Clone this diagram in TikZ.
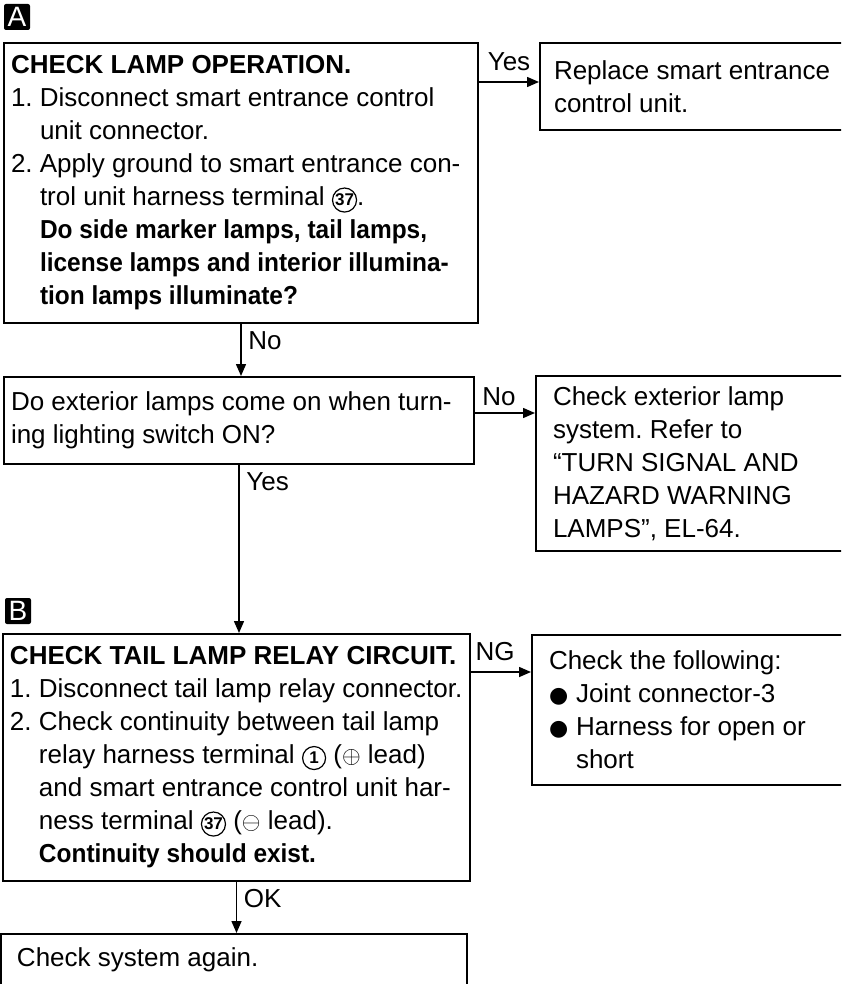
\documentclass[tikz,border=0pt]{standalone}
\usepackage{fontspec}
\setmainfont{Liberation Sans}
\newfontfamily\symfont{DejaVu Sans}
\usetikzlibrary{arrows.meta,calc}

\tikzset{
  every node/.style={font=\fontsize{13}{16.5}\selectfont\frenchspacing},
  stepbox/.style={draw, rectangle, line width=1pt, anchor=north west, align=flush left, inner ysep=0pt},
  flow/.style={-{Triangle[length=6pt,width=5pt]}, line width=0.75pt},
  tag/.style={fill=black, text=white, minimum size=13pt, inner sep=0pt, rounded corners=1pt, font=\fontsize{14}{14}\selectfont}
}
\newcommand{\circnum}[1]{\tikz[baseline=(cn.base)]\node[draw, circle, line width=0.6pt, inner sep=0.3pt, minimum size=11.5pt, font=\fontsize{8.5}{8.5}\selectfont\bfseries] (cn) {#1};}
\newcommand{\indentitem}{\hspace*{14.5pt}}
\newcommand{\boldq}[1]{{\bfseries\addfontfeature{FakeStretch=0.94}#1}}
\newcommand{\bulletitem}{\makebox[13.5pt][l]{\symfont\fontsize{11}{11}\selectfont ●}}

\begin{document}
\begin{tikzpicture}[x=0.5pt,y=-0.5pt]
\useasboundingbox (0,0) rectangle (841,984);
\clip (0,0) rectangle (841,984);

% A: lamp operation
\node[tag] (tagA) at (17,17) {A};
\node[stepbox, text width=230pt, inner xsep=3.5pt, minimum height=140pt] (lamp) at (3,42) {\textbf{CHECK LAMP OPERATION.}\\
1. Disconnect smart entrance control\\
\indentitem unit connector.\\
2. Apply ground to smart entrance con-\\
\indentitem trol unit harness terminal \circnum{37}.\\
\indentitem\boldq{Do side marker lamps, tail lamps,}\\
\indentitem\boldq{license lamps and interior illumina-}\\
\indentitem\boldq{tion lamps illuminate?}};
\node[stepbox, text width=150pt, inner xsep=7pt, minimum height=43.5pt] (replace) at (539,42) {Replace smart entrance\\control unit.};

\node[stepbox, text width=228pt, inner xsep=3.5pt, minimum height=43.5pt] (query) at (3,376) {Do exterior lamps come on when turn-\\ing lighting switch ON?};
\node[stepbox, text width=150pt, inner xsep=8.5pt, minimum height=87.5pt] (extsys) at (535,375) {Check exterior lamp\\system. Refer to\\“TURN SIGNAL AND\\HAZARD WARNING\\LAMPS”, EL-64.};

% B: tail lamp relay circuit
\node[tag] (tagB) at (18,611) {B};
\node[stepbox, text width=226.5pt, inner xsep=3.5pt, minimum height=123.5pt] (relay) at (2,633) {\textbf{CHECK TAIL LAMP RELAY CIRCUIT.}\\
1. Disconnect tail lamp relay connector.\\
2. Check continuity between tail lamp\\
\indentitem relay harness terminal \circnum{1} ($\oplus$ lead)\\
\indentitem and smart entrance control unit har-\\
\indentitem ness terminal \circnum{37} ($\ominus$ lead).\\
\indentitem\boldq{Continuity should exist.}};
\node[stepbox, text width=150pt, inner xsep=8.5pt, minimum height=75pt] (follow) at (531,634) {Check the following:\\
\bulletitem Joint connector-3\\
\bulletitem Harness for open or\\
\hspace*{13.5pt}short};

\node[stepbox, text width=217pt, inner xsep=8pt, inner ysep=6.9pt, text depth=30pt] (again) at (0,933) {Check system again.};

% connectors
\coordinate (yesA) at ($(lamp.north east)+(0,40)$);
\draw[flow] (yesA) -- node[above=2pt] {Yes} (yesA -| replace.west);
\draw[flow] (lamp.south) -- node[right, pos=0.33] {No} (lamp.south |- query.north);
\coordinate (noQ) at ($(query.north east)+(0,37)$);
\draw[flow] (noQ) -- node[above, pos=0.4] {No} (noQ -| extsys.west);
\draw[flow] (query.south) -- node[right, pos=0.1] {Yes} (query.south |- relay.north);
\coordinate (ngB) at ($(relay.north east)+(0,39)$);
\draw[flow] (ngB) -- node[above=2pt, pos=0.4] {NG} (ngB -| follow.west);
\draw[flow] (relay.south) -- node[right, pos=0.32] {OK} (relay.south |- again.north);
\end{tikzpicture}
\end{document}
